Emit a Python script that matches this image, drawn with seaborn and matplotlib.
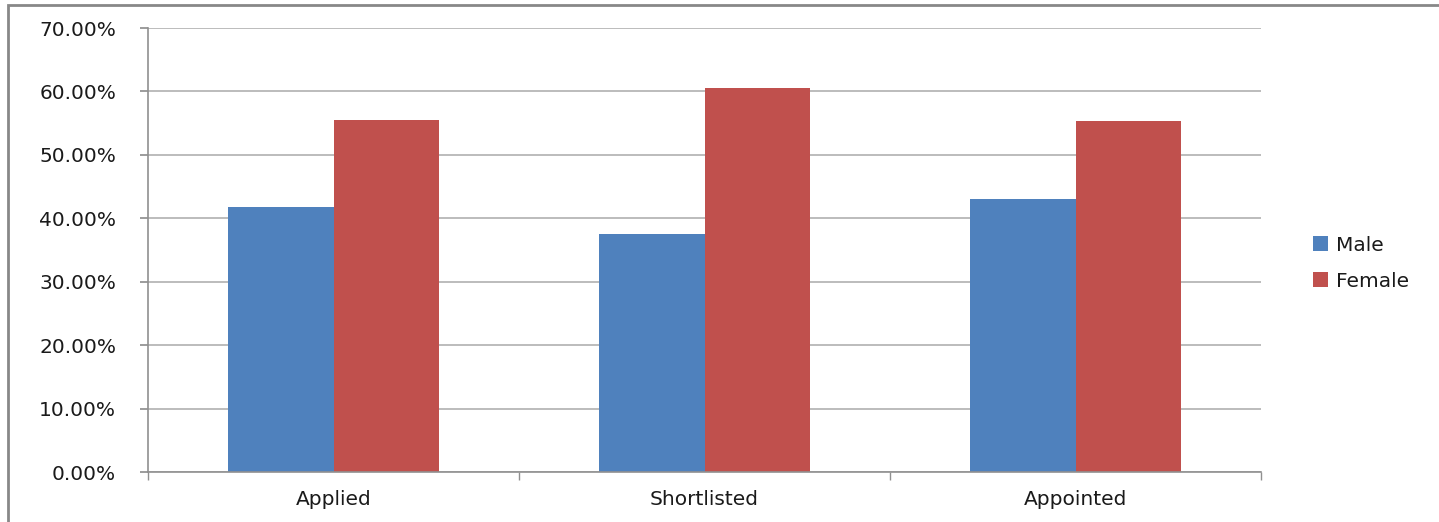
import matplotlib
matplotlib.use("Agg")
import matplotlib.pyplot as plt
import seaborn as sns
import pandas as pd
from matplotlib.patches import Rectangle
from matplotlib.ticker import FuncFormatter, MultipleLocator, FixedLocator

categories = ["Applied", "Shortlisted", "Appointed"]
male = [41.8, 37.5, 43.0]
female = [55.5, 60.6, 55.4]
series = ["Male", "Female"]
colors = ["#4F81BD", "#C0504D"]

df = pd.DataFrame({
    "Stage": categories * 2,
    "Gender": ["Male"] * 3 + ["Female"] * 3,
    "Value": male + female,
})

sns.set_theme(style="white")
plt.rcParams["font.family"] = ["DejaVu Sans"]

fig = plt.figure(figsize=(14.39, 5.22), dpi=100)
ax = fig.add_axes([148/1439, 50/522, (1261-148)/1439, (472-28)/522])

sns.barplot(data=df, x="Stage", y="Value", hue="Gender", hue_order=series,
            palette=colors, width=0.57, ax=ax, saturation=1, linewidth=0, legend=True)

ax.set_ylim(0, 70)
ax.set_xlim(-0.5, 2.5)
ax.yaxis.set_major_locator(MultipleLocator(10))
ax.yaxis.set_major_formatter(FuncFormatter(lambda v, p: f"{v:.2f}%"))
ax.grid(axis="y", color="#B0B0B0", linewidth=1.2)
ax.set_axisbelow(True)
ax.set_xlabel("")
ax.set_ylabel("")
for s in ["top", "right"]:
    ax.spines[s].set_visible(False)
for s in ["left", "bottom"]:
    ax.spines[s].set_color("#909090")
    ax.spines[s].set_linewidth(1.2)
ax.tick_params(axis="y", which="major", length=6, color="#909090", labelsize=14.5,
               labelcolor="#1a1a1a", pad=17, left=True)
ax.tick_params(axis="x", which="major", length=0, labelsize=14.5, labelcolor="#1a1a1a", pad=13)
ax.xaxis.set_minor_locator(FixedLocator([-0.5, 0.5, 1.5, 2.5]))
ax.tick_params(axis="x", which="minor", length=6, color="#909090", bottom=True)

leg = ax.legend(loc="center left", bbox_to_anchor=(1.03, 0.47), frameon=False,
                fontsize=14.5, handlelength=0.75, handleheight=0.75, labelspacing=0.85,
                handletextpad=0.4)
for t in leg.get_texts():
    t.set_color("#1a1a1a")

fig.patches.append(Rectangle((8/1439, -0.01), 1.1, 1 - 5/522 + 0.01, transform=fig.transFigure,
                             fill=False, edgecolor="#888888", linewidth=2))

fig.savefig("out.png", dpi=100)
